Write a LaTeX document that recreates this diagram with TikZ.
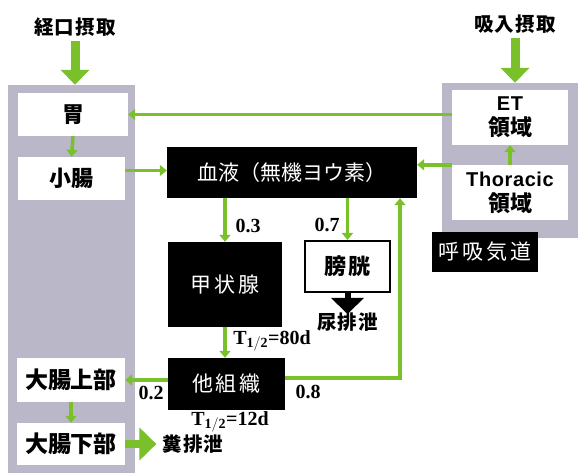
\documentclass[tikz,border=0pt]{standalone}
\usepackage{fontspec}
\setmainfont{Liberation Serif}
\newfontfamily\cjk{Noto Sans CJK JP}
\newfontfamily\cjks[LetterSpace=6]{Noto Sans CJK JP}
\newfontfamily\cjkw[LetterSpace=14]{Noto Sans CJK JP}
\newfontfamily\lsans[LetterSpace=3]{Liberation Sans}
\usetikzlibrary{arrows.meta}
\definecolor{grn}{RGB}{122,192,42}
\definecolor{pgray}{RGB}{186,183,200}
\tikzset{
  panel/.style={fill=pgray, draw=none, inner sep=0pt},
  wbox/.style={fill=white, draw=none, inner sep=0pt, align=center,
    font=\cjk\bfseries\fontsize{22}{24}\selectfont},
  bbox/.style={fill=black, draw=none, text=white, inner sep=0pt, align=center,
    font=\cjks\fontsize{21}{23}\selectfont},
  jlabel/.style={inner sep=0pt, font=\cjks\bfseries\fontsize{19.5}{21}\selectfont},
  numlabel/.style={inner sep=0pt, font=\bfseries\fontsize{20}{22}\selectfont},
  gline/.style={draw=grn, line width=3.5pt},
  garrow/.style={gline, -{Triangle[width=11pt,length=7pt]}},
  bigarrow/.style={draw=grn, line width=9pt, -{Triangle[width=28pt,length=15pt]}},
  blackarrow/.style={draw=black, line width=6pt, -{Triangle[width=32pt,length=16pt]}},
}
\begin{document}
\begin{tikzpicture}[x=1pt,y=-1pt]
\useasboundingbox[fill=white] (0,0) rectangle (582,476);
% panels
\node[panel, minimum width=127pt, minimum height=388pt] (lpanel) at (71.5,279) {};
\node[panel, minimum width=136pt, minimum height=155pt] (rpanel) at (510,160.5) {};
% left boxes
\node[wbox, minimum width=110pt, minimum height=43pt] (stomach) at (73,114.5) {胃};
\node[wbox, minimum width=107pt, minimum height=43pt] (si) at (71.5,178.5) {小腸};
\node[wbox, minimum width=108pt, minimum height=44pt, font=\cjk\bfseries\fontsize{23}{25}\selectfont] (uli) at (71,380) {大腸上部};
\node[wbox, minimum width=108pt, minimum height=42pt, font=\cjk\bfseries\fontsize{23}{25}\selectfont] (lli) at (71,444) {大腸下部};
% right boxes
\node[wbox, minimum width=116pt, minimum height=55pt, font=\bfseries\fontsize{20}{22}\selectfont] (et) at (510,117.5) {{\lsans ET}\\[3pt]{\cjk\fontsize{22}{23}\selectfont 領域}};
\node[wbox, minimum width=116pt, minimum height=55pt, font=\bfseries\fontsize{20}{22}\selectfont] (thor) at (510,192.5) {{\lsans Thoracic}\\[3pt]{\cjk\fontsize{22}{23}\selectfont 領域}};
\node[bbox, minimum width=106pt, minimum height=40pt, font=\cjkw\fontsize{21}{23}\selectfont] (resp) at (485,252) {呼吸気道};
% center boxes
\node[bbox, minimum width=250pt, minimum height=51pt, font=\cjk\fontsize{21}{23}\selectfont] (blood) at (292,172.5) {血液（無機ヨウ素）};
\node[bbox, minimum width=114pt, minimum height=85pt, font=\cjkw\fontsize{21}{23}\selectfont] (thy) at (225,284.5) {甲状腺};
\node[bbox, minimum width=117pt, minimum height=52pt, font=\cjkw\fontsize{21}{23}\selectfont] (oth) at (226.5,384) {他組織};
\node[wbox, draw=black, line width=2pt, minimum width=85pt, minimum height=51pt, font=\cjks\bfseries\fontsize{22}{24}\selectfont] (bladder) at (347.5,266.5) {膀胱};
% labels
\node[jlabel] (oral) at (75,27) {経口摂取};
\node[jlabel] (inh) at (515,24) {吸入摂取};
\node[jlabel] (feces) at (193,444) {糞排泄};
\node[numlabel] (l03) at (248,226) {0.3};
\node[numlabel] (l07) at (327,225) {0.7};
\node[numlabel] (l80) at (272,341) {T$_{\mathbf{1/2}}$=80d};
\node[numlabel] (l02) at (151,393) {0.2};
\node[numlabel] (l08) at (308,392) {0.8};
\node[numlabel] (l12) at (230,422) {T$_{\mathbf{1/2}}$=12d};
% helper coordinates
\coordinate (siout) at ([yshift=8pt]si.east);
\coordinate (othw) at ([yshift=4pt]oth.west);
\coordinate (othe) at ([yshift=6pt]oth.east);
\coordinate (retin) at ([xshift=108pt]blood.south);
% intake arrows
\draw[bigarrow] ([yshift=-4pt]oral.south) -- (oral.south |- lpanel.north);
\draw[bigarrow] ([yshift=-4pt]inh.south) -- (inh.south |- rpanel.north);
% connectors
\draw[garrow] (et.west |- stomach.east) -- (stomach.east);
\draw[garrow] (stomach.south) -- (si.north);
\draw[garrow] (siout) -- (blood.west |- siout);
\draw[garrow] (thor.north west) -- (blood.east |- thor.north west);
\draw[garrow] (thor.north) -- (et.south);
\draw[garrow] (blood.south -| thy.north) -- (thy.north);
\draw[garrow] (blood.south -| bladder.north) -- (bladder.north);
\draw[garrow] (thy.south) -- (thy.south |- oth.north);
\draw[garrow] (othw) -- (uli.east |- othw);
\draw[garrow] (othe) -| (retin);
\draw[garrow] (uli.south) -- (lli.north);
\draw[bigarrow, line width=8pt, -{Triangle[width=32pt,length=17pt]}] (lli.east) -- ([xshift=-6pt]feces.west);
% urine
\coordinate (utip) at ([yshift=-21pt]bladder.south);
\node[jlabel, anchor=north] (urine) at ([yshift=-20pt]bladder.south) {尿排泄};
\draw[blackarrow] (bladder.south) -- (utip);
\end{tikzpicture}
\end{document}
